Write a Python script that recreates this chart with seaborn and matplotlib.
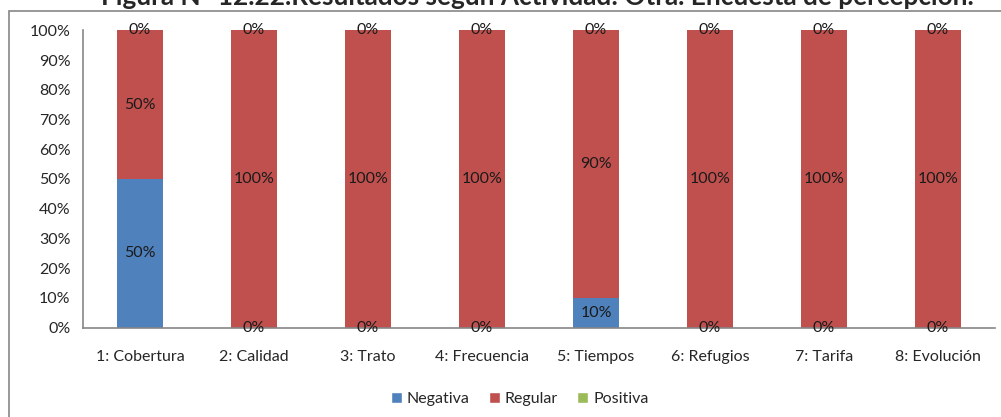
import matplotlib
matplotlib.use("Agg")
import matplotlib.pyplot as plt
import seaborn as sns
import numpy as np
from matplotlib.patches import Rectangle, Patch

categories = ["1: Cobertura", "2: Calidad", "3: Trato", "4: Frecuencia",
              "5: Tiempos", "6: Refugios", "7: Tarifa", "8: Evolución"]
negativa = [50, 0, 0, 0, 10, 0, 0, 0]
regular = [50, 100, 100, 100, 90, 100, 100, 100]
positiva = [0, 0, 0, 0, 0, 0, 0, 0]
series_names = ["Negativa", "Regular", "Positiva"]
colors = ["#4F81BD", "#C0504D", "#9BBB59"]
yticks = list(range(0, 101, 10))
title = "Figura N° 12.22.Resultados según Actividad: Otra. Encuesta de percepción."

sns.set_style("white")
plt.rcParams['font.family'] = ['Lato', 'DejaVu Sans']

fig = plt.figure(figsize=(10.01, 4.17), dpi=100)
ax = fig.add_axes([0.0829, 0.2146, 0.994 - 0.0829, 0.9269 - 0.2146])

series = [negativa, regular, positiva]
bottom = np.zeros(len(categories))
for name, vals, col in zip(series_names, series, colors):
    sns.barplot(x=categories, y=vals, bottom=bottom, color=col, width=0.4,
                ax=ax, saturation=1, linewidth=0, label=name)
    for i, v in enumerate(vals):
        ax.text(i, bottom[i] + v / 2, f"{v}%", ha="center", va="center",
                fontsize=11.5, color="#1a1a1a")
    bottom = bottom + np.array(vals)

ax.set_xlim(-0.5, len(categories) - 0.5)
ax.set_ylim(0, 100)
ax.set_yticks(yticks)
ax.set_yticklabels([f"{t}%" for t in yticks], fontsize=11.5)
ax.set_xticks(range(len(categories)))
ax.set_xticklabels(categories, fontsize=11.5)
ax.set_xticks(np.arange(-0.5, len(categories), 1), minor=True)
ax.tick_params(axis="x", which="major", length=0, pad=16)
ax.tick_params(axis="x", which="minor", length=5, width=1, color="#868686", direction="out")
ax.tick_params(axis="y", length=5, width=1, color="#868686", direction="out", pad=4)
ax.set_xlabel("")
ax.set_ylabel("")
for s in ["top", "right"]:
    ax.spines[s].set_visible(False)
for s in ["left", "bottom"]:
    ax.spines[s].set_color("#868686")
    ax.spines[s].set_linewidth(1.2)
if ax.get_legend():
    ax.get_legend().remove()

# chart frame
fig.patches.append(Rectangle((9 / 1001, -0.1), 1.2, 1 - 11 / 417 + 0.1,
                             transform=fig.transFigure, fill=False,
                             edgecolor="#868686", linewidth=1.2))

fig.text(0.537, 1 - 5 / 417, title, ha="center", va="baseline",
         fontsize=18.8, fontweight="bold")

handles = [Patch(facecolor=c, label=n) for n, c in zip(series_names, colors)]
fig.legend(handles=handles, loc="center", bbox_to_anchor=(0.519, 0.043), ncol=3,
           frameon=False, fontsize=11.5, handlelength=0.7, handleheight=0.7,
           handletextpad=0.3, columnspacing=1.2)

fig.savefig("out.png", dpi=100)
